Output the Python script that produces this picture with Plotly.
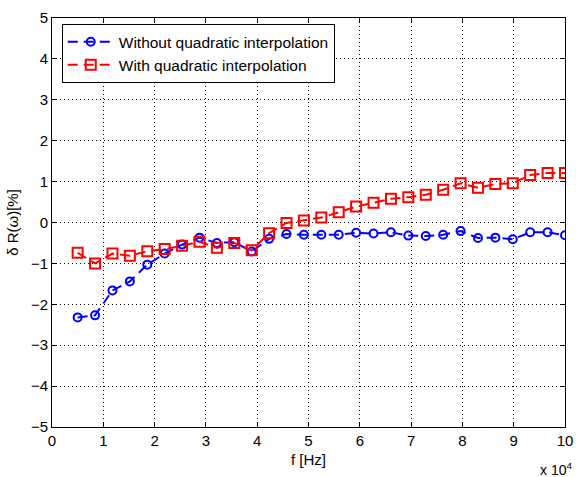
import plotly.graph_objects as go

# Frequency samples [Hz]
freq = [5000, 8393, 11786, 15179, 18571, 21964, 25357, 28750, 32143, 35536,
        38929, 42321, 45714, 49107, 52500, 55893, 59286, 62679, 66071, 69464,
        72857, 76250, 79643, 83036, 86429, 89821, 93214, 96607, 100000]

# Relative error delta R(omega) [%]
without_interp = [-2.32, -2.27, -1.66, -1.44, -1.03, -0.76, -0.54, -0.37, -0.50, -0.48,
                  -0.71, -0.40, -0.28, -0.30, -0.30, -0.30, -0.25, -0.27, -0.24, -0.32,
                  -0.33, -0.30, -0.21, -0.38, -0.37, -0.41, -0.24, -0.24, -0.31]
with_interp = [-0.74, -1.00, -0.76, -0.81, -0.70, -0.65, -0.57, -0.47, -0.62, -0.50,
               -0.68, -0.26, -0.01, 0.05, 0.12, 0.25, 0.39, 0.48, 0.58, 0.62,
               0.68, 0.80, 0.96, 0.85, 0.94, 0.96, 1.16, 1.21, 1.21]

x_tickvals = [0, 10000, 20000, 30000, 40000, 50000, 60000, 70000, 80000, 90000, 100000]
x_ticktext = ["0", "1", "2", "3", "4", "5", "6", "7", "8", "9", "10"]
y_tickvals = [-5, -4, -3, -2, -1, 0, 1, 2, 3, 4, 5]

FONT = "Liberation Sans, Arial, Helvetica, sans-serif"
DASH = "10px,6px"

fig = go.Figure()
fig.add_trace(go.Scatter(
    x=freq, y=without_interp, mode="lines+markers",
    name="Without quadratic interpolation",
    line=dict(color="#0000ff", width=2, dash=DASH),
    marker=dict(symbol="circle-open", size=8, color="#0000ff",
                line=dict(width=2, color="#0000ff")),
))
fig.add_trace(go.Scatter(
    x=freq, y=with_interp, mode="lines+markers",
    name="With quadratic interpolation",
    line=dict(color="#ff0000", width=2, dash=DASH),
    marker=dict(symbol="square-open", size=10, color="#ff0000",
                line=dict(width=2, color="#ff0000")),
))

axis_common = dict(
    showline=True, linecolor="black", linewidth=1, mirror="ticks",
    ticks="inside", ticklen=5, tickcolor="black", tickwidth=1,
    showgrid=True, gridcolor="black", gridwidth=1, griddash="1px,3px",
    zeroline=False,
    tickfont=dict(family=FONT, size=15, color="black"),
)

fig.update_xaxes(
    range=[0, 100000], tickvals=x_tickvals, ticktext=x_ticktext,
    title=dict(text="f [Hz]", font=dict(family=FONT, size=15, color="black"), standoff=6),
    **axis_common,
)
fig.update_yaxes(
    range=[-5, 5], tickvals=y_tickvals,
    title=dict(text="δ R(ω)[%]", font=dict(family=FONT, size=15, color="black"), standoff=8),
    **axis_common,
)

fig.add_annotation(
    x=1.0, y=0, xref="paper", yref="paper", xanchor="right", yanchor="top",
    yshift=-31, xshift=9, showarrow=False,
    text="x 10<sup>4</sup>", font=dict(family=FONT, size=14, color="black"),
)

fig.update_layout(
    width=582, height=477,
    margin=dict(l=52, r=9, t=17, b=50),
    paper_bgcolor="white", plot_bgcolor="white",
    showlegend=True,
    legend=dict(
        x=0.019, y=0.985, xanchor="left", yanchor="top",
        bgcolor="white", bordercolor="black", borderwidth=1,
        font=dict(family=FONT, size=15.5, color="black"),
        itemwidth=46, tracegroupgap=0,
    ),
)

fig.write_html("out.html")
